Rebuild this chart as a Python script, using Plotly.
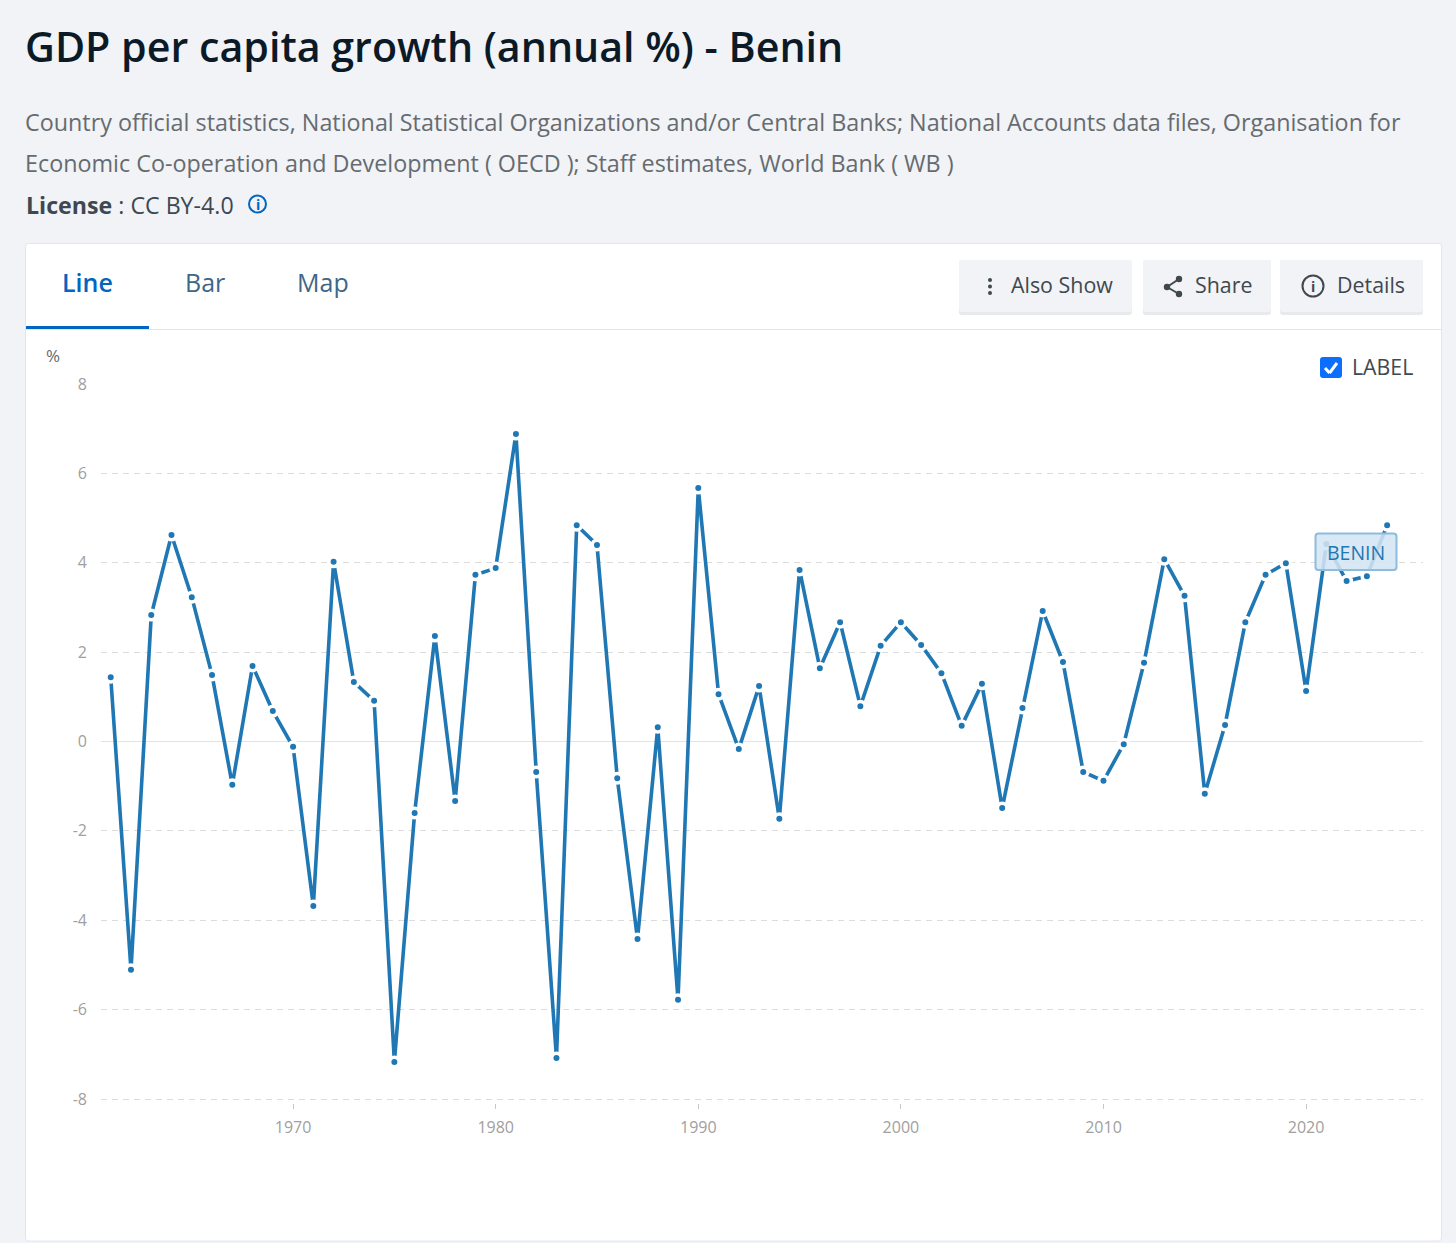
import plotly.graph_objects as go

# =========================
# DATA
# =========================
years = list(range(1961, 2025))
growth = [
    1.44, -5.11, 2.83, 4.62, 3.23, 1.49, -0.97, 1.69, 0.68, -0.12,
    -3.68, 4.02, 1.33, 0.91, -7.17, -1.60, 2.36, -1.33, 3.73, 3.88,
    6.88, -0.68, -7.08, 4.84, 4.40, -0.82, -4.42, 0.32, -5.78, 5.67,
    1.06, -0.17, 1.24, -1.73, 3.84, 1.64, 2.67, 0.79, 2.14, 2.67,
    2.16, 1.53, 0.35, 1.29, -1.49, 0.75, 2.92, 1.78, -0.68, -0.88,
    -0.06, 1.76, 4.08, 3.26, -1.17, 0.37, 2.67, 3.73, 3.99, 1.13,
    4.42, 3.59, 3.70, 4.84,
]
x_ticks = [1970, 1980, 1990, 2000, 2010, 2020]
y_ticks = [-8, -6, -4, -2, 0, 2, 4, 6, 8]
y_tick_labels = ["-8", "-6", "-4", "-2", "0", "2", "4", "6", "8"]

# =========================
# PAGE LAYOUT (pixels)
# =========================
W, H = 1456, 1243
PLOT_L, PLOT_R, PLOT_T, PLOT_B = 101, 1423, 383, 1103
FONT = "Open Sans"
LINE_BLUE = "#1f77b4"


def fx(px):
    return (px - PLOT_L) / (PLOT_R - PLOT_L)


def fy(py):
    return (PLOT_B - py) / (PLOT_B - PLOT_T)


def round_rect(x0, y0, x1, y1, r):
    pts = [(x0 + r, y0), (x1 - r, y0), (x1, y0 + r), (x1, y1 - r), (x1 - r, y1), (x0 + r, y1), (x0, y1 - r), (x0, y0 + r)]
    p = [(fx(a), fy(b)) for a, b in pts]
    return (
        f"M{p[0][0]},{p[0][1]} L{p[1][0]},{p[1][1]} Q{fx(x1)},{fy(y0)} {p[2][0]},{p[2][1]} "
        f"L{p[3][0]},{p[3][1]} Q{fx(x1)},{fy(y1)} {p[4][0]},{p[4][1]} "
        f"L{p[5][0]},{p[5][1]} Q{fx(x0)},{fy(y1)} {p[6][0]},{p[6][1]} "
        f"L{p[7][0]},{p[7][1]} Q{fx(x0)},{fy(y0)} {p[0][0]},{p[0][1]} Z"
    )


shapes = []
annotations = []


def box(x0, y0, x1, y1, r=0, fill="rgba(0,0,0,0)", line=None, width=1, layer="below"):
    shapes.append(dict(
        type="path", path=round_rect(x0, y0, x1, y1, r) if r else
        f"M{fx(x0)},{fy(y0)} L{fx(x1)},{fy(y0)} L{fx(x1)},{fy(y1)} L{fx(x0)},{fy(y1)} Z",
        xref="paper", yref="paper", fillcolor=fill,
        line=dict(color=line or "rgba(0,0,0,0)", width=width if line else 0), layer=layer,
    ))


def seg(x0, y0, x1, y1, color, width, layer="below"):
    shapes.append(dict(type="line", xref="paper", yref="paper", x0=fx(x0), y0=fy(y0), x1=fx(x1), y1=fy(y1),
                       line=dict(color=color, width=width), layer=layer))


def circle(cx, cy, r, fill="rgba(0,0,0,0)", line=None, width=0):
    shapes.append(dict(type="circle", xref="paper", yref="paper", x0=fx(cx - r), x1=fx(cx + r),
                       y0=fy(cy + r), y1=fy(cy - r), fillcolor=fill,
                       line=dict(color=line or "rgba(0,0,0,0)", width=width), layer="below"))


def text(px, py, s, size, color, anchor="left", weight=None):
    annotations.append(dict(
        xref="paper", yref="paper", x=fx(px), y=fy(py), text=s, showarrow=False, xanchor=anchor, yanchor="middle",
        font=dict(family=FONT, size=size, color=color, weight=weight), xshift=0, yshift=0,
        borderpad=0, align="left",
    ))


# =========================
# CARD + TABS
# =========================
box(25.5, 243.5, 1441.5, 1241, r=3, fill="white", line="#e1e6ee")
seg(26, 329.5, 1441, 329.5, "#e1e6ee", 1)
seg(26, 327.5, 149, 327.5, "#0066c0", 3)

# header text
text(24, 46, "GDP per capita growth (annual %) - Benin", 41.2, "#0b1a26", weight=600)
text(24, 122, "Country official statistics, National Statistical Organizations and/or Central Banks; National Accounts data files, Organisation for", 23.33, "#666b70")
text(24, 163, "Economic Co-operation and Development ( OECD ); Staff estimates, World Bank ( WB )", 23.33, "#666b70")
text(25, 204.5, "<b>License</b> : CC BY-4.0", 23.2, "#40484f")
circle(257.5, 204, 8.5, line="#0066c0", width=2)
text(257.5, 204, "i", 14, "#0066c0", anchor="center", weight=700)

text(61, 282.5, "Line", 25, "#0066c0", weight=600)
text(184, 282.5, "Bar", 25, "#3f6788")
text(296, 282.5, "Map", 25, "#3f6788")

# buttons
for bx0, bx1 in [(959, 1132), (1143, 1271), (1280, 1423)]:
    box(bx0, 260, bx1, 315, r=3, fill="#e7e9ec")
    box(bx0, 260, bx1, 312, r=3, fill="#f1f3f6")
for cy in [280, 286.5, 293]:
    circle(990, cy, 2, fill="#40484f")
text(1009.5, 284, "Also Show", 21.4, "#40484f")
# share icon
seg(1167, 287, 1179, 279, "#40484f", 2)
seg(1167, 287, 1179, 294, "#40484f", 2)
circle(1179, 279, 3.2, fill="#40484f")
circle(1179, 294, 3.2, fill="#40484f")
circle(1167, 287, 3.2, fill="#40484f")
text(1193.5, 284, "Share", 21.4, "#40484f")
# details icon
circle(1313, 286, 10.5, line="#40484f", width=2)
text(1313, 286, "i", 14, "#40484f", anchor="center", weight=700)
text(1335.5, 284, "Details", 21.4, "#40484f")

# y unit + checkbox
text(45, 355.5, "%", 17, "#666b70")
box(1320, 357, 1342, 378, r=3, fill="#0d6efd")
seg(1325, 368, 1329.5, 373, "white", 3)
seg(1329.5, 373, 1337, 363, "white", 3)
text(1350.5, 366.5, "LABEL", 21.3, "#40484f")

# =========================
# CHART
# =========================
fig = go.Figure()
fig.add_trace(go.Scatter(
    x=years, y=growth, mode="lines+markers",
    line=dict(color=LINE_BLUE, width=3.6),
    marker=dict(size=9.5, color=LINE_BLUE, line=dict(color="white", width=3.5)),
    hoverinfo="x+y", showlegend=False, cliponaxis=False,
))

# BENIN label sits over the line
box(1315.5, 533.5, 1396.5, 570, r=3, fill="rgba(211,229,242,0.88)", line="#8dbcdc", width=2, layer="above")
text(1355.5, 552, "BENIN", 19.5, LINE_BLUE, anchor="center")

fig.update_layout(
    width=W, height=H,
    margin=dict(l=PLOT_L, r=W - PLOT_R, t=PLOT_T, b=H - PLOT_B, pad=0, autoexpand=False),
    paper_bgcolor="#f1f3f7", plot_bgcolor="rgba(0,0,0,0)",
    shapes=shapes, annotations=annotations, showlegend=False,
    font=dict(family=FONT),
    xaxis=dict(
        range=[1960.52, 2025.77], tickvals=x_ticks, showgrid=False, zeroline=False, showline=False,
        ticks="outside", ticklen=5, tickwidth=1, tickcolor="#c8c8c8",
        tickfont=dict(family=FONT, size=16, color="#a0a0a0"), ticklabelstandoff=5,
    ),
    yaxis=dict(
        range=[-8.0895, 8.0224], tickvals=y_ticks, ticktext=y_tick_labels,
        showgrid=True, gridcolor="#dcdcdc", griddash="6px,5px", gridwidth=1.4,
        zeroline=True, zerolinecolor="#dde5ea", zerolinewidth=1.4, showline=False,
        ticks="", tickfont=dict(family=FONT, size=16, color="#a0a0a0"), ticklabelstandoff=13,
    ),
)

fig.write_html(
    "out.html",
    config=dict(displayModeBar=False),
    post_script="document.body.style.margin='0';document.body.style.overflow='hidden';window.dispatchEvent(new Event('resize'));",
)
